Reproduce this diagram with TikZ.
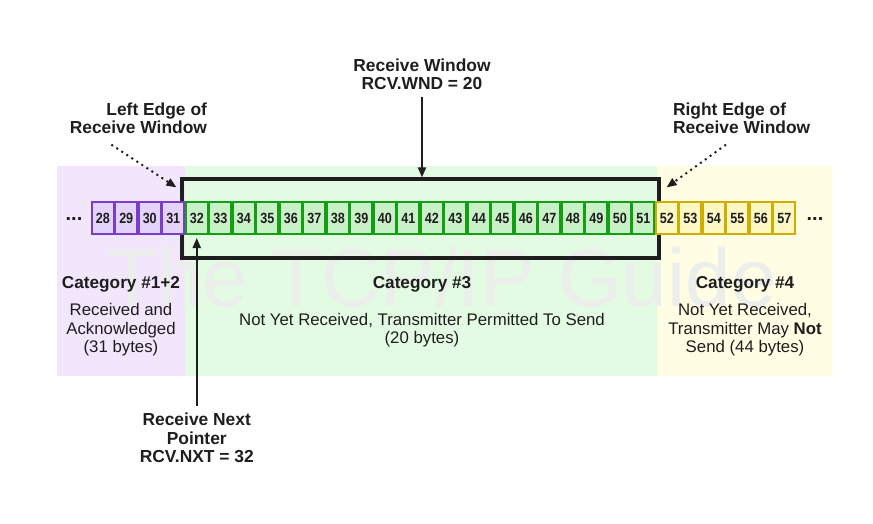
\documentclass[tikz,border=0pt]{standalone}
\usepackage{fontspec}
\setmainfont{Liberation Sans}
\newfontfamily\narrowsf[FakeStretch=0.85]{Liberation Sans}
\usepackage{xcolor}
\usetikzlibrary{positioning, arrows.meta, calc}
\definecolor{ink}{HTML}{1e1e1e}
\definecolor{purpbg}{HTML}{F1E6FC}
\definecolor{greenbg}{HTML}{E2FBE2}
\definecolor{yellowbg}{HTML}{FFFDE3}
\definecolor{purpcell}{HTML}{E4D3F8}
\definecolor{purpline}{HTML}{7A3DC8}
\definecolor{greencell}{HTML}{C8F1C8}
\definecolor{greenline}{HTML}{149E14}
\definecolor{yellowcell}{HTML}{FFF7C4}
\definecolor{yellowline}{HTML}{D0AE00}
\definecolor{wmark}{HTML}{EBEEEB}

\begin{document}
\begin{tikzpicture}[x=0.5pt, y=-0.5pt, text=ink, font=\fontsize{8.5}{9.4}\selectfont,
  cell/.style={draw, line width=0.8pt, minimum width=10.95pt, minimum height=16.2pt, inner sep=0pt,
               font=\narrowsf\bfseries\fontsize{7.4}{8}\selectfont},
  cat/.style={font=\bfseries\fontsize{8.6}{9.4}\selectfont},
  lbl/.style={font=\bfseries\fontsize{8.7}{9.2}\selectfont, align=center},
  desc/.style={align=center, font=\fontsize{8.4}{9.3}\selectfont},
  arr/.style={-{Triangle[length=5pt, width=4pt]}, line width=1pt, ink},
  dotarr/.style={-{Triangle[length=5pt, width=4pt]}, line width=1pt, dotted, ink}
]
  \useasboundingbox (0,0) rectangle (873,524);

  \fill[purpbg] (57,166) rectangle (185,376);
  \fill[greenbg] (185,166) rectangle (657,376);
  \fill[yellowbg] (657,166) rectangle (832,376);
  \node[text=wmark, font=\fontsize{41}{41}\selectfont] (wm) at (442,277) {The TCP/IP Guide};

  \node[draw=ink, line width=1.6pt, minimum width=238.5pt, minimum height=39.5pt, inner sep=0pt] (win) at (420.5,218.5) {};

  \foreach \n in {28,...,31}
    \node[cell, draw=purpline, fill=purpcell] (b\n) at ({102.75+(\n-28)*23.5},218) {\n};
  \foreach \n in {32,...,51}
    \node[cell, draw=greenline, fill=greencell] (b\n) at ({102.75+(\n-28)*23.5},218) {\n};
  \foreach \n in {52,...,57}
    \node[cell, draw=yellowline, fill=yellowcell] (b\n) at ({102.75+(\n-28)*23.5},218) {\n};
  \node[font=\bfseries\fontsize{10}{10}\selectfont] (ldots) at (74,219) {...};
  \node[font=\bfseries\fontsize{10}{10}\selectfont] (rdots) at (815,219) {...};

  \node[lbl] (rw) at (422,74) {Receive Window\\RCV.WND = 20};
  \node[lbl, align=right, anchor=east] (lew) at (214,118) {Left Edge of\\Receive Window};
  \node[lbl, align=left, anchor=west] (rew) at (666,118) {Right Edge of\\Receive Window};
  \node[lbl] (rnp) at (196.75,438) {Receive Next\\Pointer\\RCV.NXT = 32};

  \draw[arr] (rw.south) -- (rw.south |- win.north);
  \draw[arr, shorten >=1.5pt] (rnp) -- (b32);
  \draw[dotarr] ($(lew.south)+(-27,4)$) -- ($(win.north west)+(-4,10)$);
  \draw[dotarr] ($(rew.south west)+(60,4)$) -- ($(win.north east)+(6,10)$);

  \node[cat] (c12) at (121,284) {Category \#1+2};
  \node[desc] (d12) at (121,330) {Received and\\Acknowledged\\(31 bytes)};
  \node[cat] (c3) at (422,284) {Category \#3};
  \node[desc] (d3) at (422,330) {Not Yet Received, Transmitter Permitted To Send\\(20 bytes)};
  \node[cat] (c4) at (745,284) {Category \#4};
  \node[desc] (d4) at (745,330) {Not Yet Received,\\Transmitter May \textbf{Not}\\Send (44 bytes)};
\end{tikzpicture}
\end{document}
